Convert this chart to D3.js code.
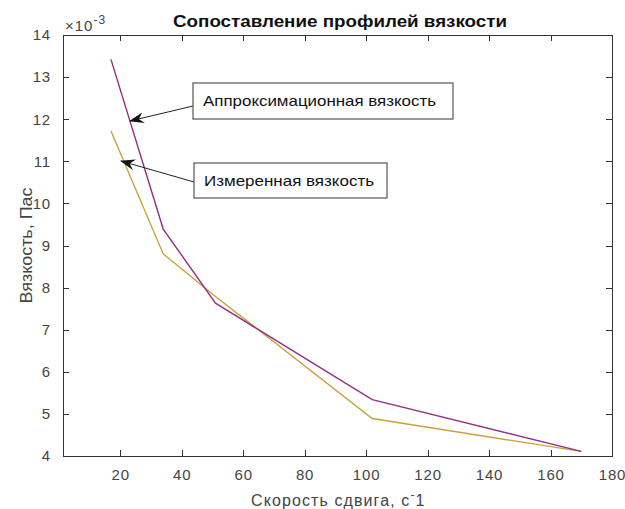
<!DOCTYPE html>
<meta charset="utf-8">
<style>
body { margin: 0; background: #fff; }
svg { font-family: "Liberation Sans", Arial, sans-serif; }
.axis text { font-size: 15px; fill: #444; letter-spacing: 0.8px; }
.axis line, .axis path { stroke: #333; shape-rendering: crispEdges; }
</style>
<body>
<div id="chart"></div>
<script src="https://cdn.jsdelivr.net/npm/d3@7"></script>
<script>
// shear rate, 1/s
var shearRate = [17, 34, 51, 102, 170];
// viscosity, x1e-3 Pa*s
var approxVisc = [13.42, 9.39, 7.63, 5.34, 4.11];
var measVisc = [11.72, 8.80, 7.79, 4.89, 4.11];
var xTicks = [20, 40, 60, 80, 100, 120, 140, 160, 180];
var yTicks = [4, 5, 6, 7, 8, 9, 10, 11, 12, 13, 14];

var W = 625, H = 509,
    margin = {top: 35, right: 13, bottom: 53, left: 63},
    width = W - margin.left - margin.right,
    height = H - margin.top - margin.bottom;

var svg = d3.select("#chart").append("svg")
    .attr("width", W).attr("height", H);
var g = svg.append("g")
    .attr("transform", "translate(" + margin.left + "," + margin.top + ")");

var x = d3.scaleLinear().domain([1.4, 180]).range([0, width]);
var y = d3.scaleLinear().domain([4, 14]).range([height, 0]);

// axes (box with inward ticks on all sides)
g.append("g").attr("class", "axis")
  .attr("transform", "translate(0," + height + ")")
  .call(d3.axisBottom(x).tickValues(xTicks).tickSizeInner(-6).tickSizeOuter(0).tickPadding(13));
g.append("g").attr("class", "axis")
  .call(d3.axisTop(x).tickValues(xTicks).tickSizeInner(-6).tickSizeOuter(0).tickFormat(""));
g.append("g").attr("class", "axis")
  .call(d3.axisLeft(y).tickValues(yTicks).tickSizeInner(-6).tickSizeOuter(0).tickPadding(12));
g.append("g").attr("class", "axis")
  .attr("transform", "translate(" + width + ",0)")
  .call(d3.axisRight(y).tickValues(yTicks).tickSizeInner(-6).tickSizeOuter(0).tickFormat(""));

var line = d3.line().x(function(d) { return x(d[0]); }).y(function(d) { return y(d[1]); });

g.append("path")
  .datum(d3.zip(shearRate, measVisc))
  .attr("fill", "none").attr("stroke", "#c9a238").attr("stroke-width", 1.4)
  .attr("d", line);
g.append("path")
  .datum(d3.zip(shearRate, approxVisc))
  .attr("fill", "none").attr("stroke", "#942f86").attr("stroke-width", 1.4)
  .attr("d", line);

// exponent label
var ex = g.append("text").attr("x", 2).attr("y", -4)
  .attr("font-size", 15).attr("fill", "#444").attr("letter-spacing", 1);
ex.append("tspan").text("\u00d710");
ex.append("tspan").attr("dy", -7).attr("font-size", 12).text("-3");

// title
svg.append("text")
  .attr("x", 173).attr("y", 27)
  .attr("textLength", 334).attr("lengthAdjust", "spacingAndGlyphs")
  .attr("font-size", 16).attr("font-weight", "bold")
  .attr("fill", "#111")
  .text("Сопоставление профилей вязкости");

// axis labels
var xl = svg.append("text")
  .attr("x", 251).attr("y", 506)
  .attr("font-size", 16).attr("fill", "#444").attr("letter-spacing", 1.1);
xl.append("tspan").text("Скорость сдвига, с");
xl.append("tspan").attr("dy", -7).attr("font-size", 12).text("-");
xl.append("tspan").attr("dy", 7).text("1");

svg.append("text")
  .attr("transform", "translate(32," + (margin.top + height / 2) + ") rotate(-90)")
  .attr("x", -58).attr("textLength", 116).attr("lengthAdjust", "spacingAndGlyphs")
  .attr("font-size", 16).attr("fill", "#444")
  .text("Вязкость, Пас");

// text arrows
var defs = svg.append("defs");
defs.append("marker").attr("id", "head")
  .attr("viewBox", "0 0 15 11").attr("refX", 14).attr("refY", 5.5)
  .attr("markerWidth", 15).attr("markerHeight", 11)
  .attr("markerUnits", "userSpaceOnUse").attr("orient", "auto")
  .append("path").attr("d", "M0,0 L15,5.5 L0,11 L5,5.5 Z").attr("fill", "#111");

var notes = [
  {text: "Аппроксимационная вязкость", len: 233, box: [193, 83, 260, 36], from: [193, 106], to: [130, 121]},
  {text: "Измеренная вязкость", len: 170, box: [194, 163, 193, 35], from: [194, 182], to: [121, 161]}
];
notes.forEach(function(n) {
  svg.append("line")
    .attr("x1", n.from[0]).attr("y1", n.from[1])
    .attr("x2", n.to[0]).attr("y2", n.to[1])
    .attr("stroke", "#222").attr("stroke-width", 1)
    .attr("marker-end", "url(#head)");
  svg.append("rect")
    .attr("x", n.box[0]).attr("y", n.box[1])
    .attr("width", n.box[2]).attr("height", n.box[3])
    .attr("fill", "#fff").attr("stroke", "#555").attr("stroke-width", 1.2);
  svg.append("text")
    .attr("x", n.box[0] + 10).attr("y", n.box[1] + n.box[3] / 2 + 5)
    .attr("textLength", n.len).attr("lengthAdjust", "spacingAndGlyphs")
    .attr("font-size", 15).attr("fill", "#111")
    .text(n.text);
});
</script>
</body>
